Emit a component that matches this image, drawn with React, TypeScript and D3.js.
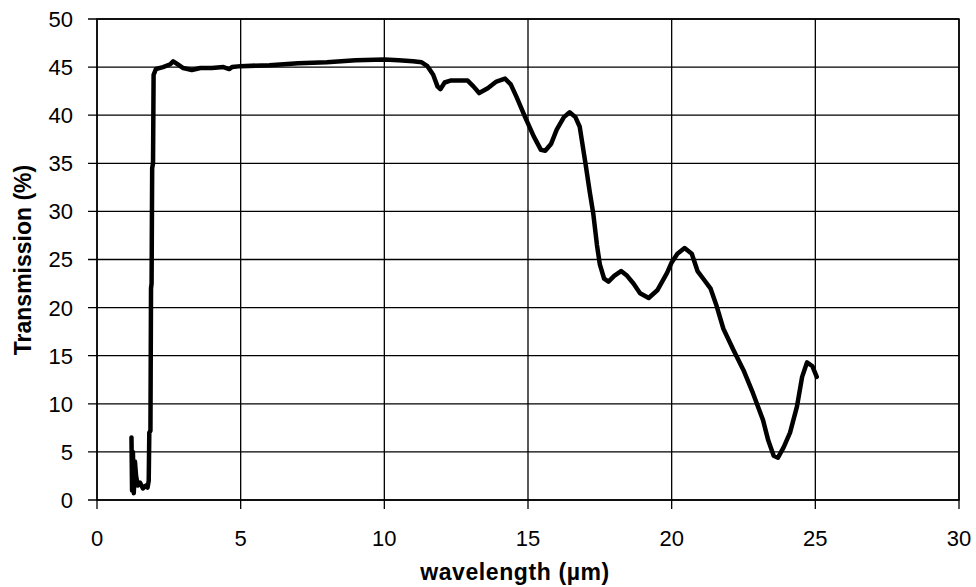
import React from "react";
import * as d3 from "d3";

const wavelength: number[] = [
  1.2, 1.22, 1.25, 1.28, 1.32, 1.36, 1.42, 1.5, 1.6, 1.7, 1.76, 1.8, 1.82, 1.86, 1.88, 1.9, 1.92, 1.95, 1.97, 2.05,
  2.3, 2.55, 2.65, 2.8, 3.0, 3.3, 3.6, 4.0, 4.4, 4.6, 4.7, 5.0, 6.0, 7.0, 8.0, 9.0, 10.0, 10.5, 11.0, 11.3,
  11.5, 11.7, 11.85, 11.95, 12.1, 12.3, 12.9, 13.1, 13.3, 13.6, 13.9, 14.2, 14.4, 14.6, 14.9, 15.2, 15.45, 15.6, 15.8, 16.0,
  16.25, 16.45, 16.65, 16.8, 17.0, 17.15, 17.27, 17.4, 17.5, 17.65, 17.8, 18.0, 18.24, 18.45, 18.67, 18.9, 19.2, 19.5, 19.84, 20.0,
  20.2, 20.45, 20.7, 20.9, 21.1, 21.35, 21.55, 21.8, 22.15, 22.5, 22.83, 23.18, 23.36, 23.55, 23.7, 23.9, 24.12, 24.36, 24.54, 24.71,
  24.9, 25.05,
];
const transmission: number[] = [
  6.5, 1.0, 5.0, 0.7, 4.0, 2.5, 1.5, 1.8, 1.2, 1.5, 1.3, 2.0, 7.0, 7.2, 22, 22.5, 34.5, 35, 44.2, 44.8,
  45.0, 45.3, 45.6, 45.3, 44.9, 44.7, 44.9, 44.9, 45.0, 44.8, 45.0, 45.1, 45.2, 45.4, 45.5, 45.7, 45.8, 45.7, 45.6, 45.5,
  45.1, 44.2, 43.0, 42.7, 43.4, 43.6, 43.6, 43.0, 42.3, 42.8, 43.5, 43.8, 43.2, 41.9, 39.8, 37.8, 36.4, 36.3, 37.0, 38.5,
  39.8, 40.3, 39.8, 38.8, 35.0, 32.0, 29.8, 26.5, 24.5, 23.0, 22.7, 23.3, 23.8, 23.3, 22.5, 21.5, 21.0, 21.8, 23.6, 24.7,
  25.6, 26.2, 25.6, 23.8, 23.0, 22.0, 20.3, 17.8, 15.6, 13.5, 11.1, 8.3, 6.2, 4.6, 4.4, 5.5, 7.0, 9.7, 12.8, 14.3,
  13.9, 12.8,
];
const xTicks: number[] = [0, 5, 10, 15, 20, 25, 30];
const yTicks: number[] = [0, 5, 10, 15, 20, 25, 30, 35, 40, 45, 50];
const xTitle = "wavelength (µm)";
const yTitle = "Transmission (%)";

export default function App() {
  const W = 976, H = 587;
  const left = 97, right = 959, top = 19, bottom = 500;
  const x = d3.scaleLinear().domain([0, 30]).range([left, right]);
  const y = d3.scaleLinear().domain([0, 50]).range([bottom, top]);
  const pts: [number, number][] = wavelength.map((w, i) => [w, transmission[i]]);
  const line = d3.line<[number, number]>().x(d => x(d[0])).y(d => y(d[1]));
  const font = "'Liberation Sans', Arial, sans-serif";
  return (
    <svg width={W} height={H} style={{ position: "absolute", left: 0, top: 0, background: "#fff" }}>
      <rect x={0} y={0} width={W} height={H} fill="#fff" />
      {yTicks.map(t => (
        <g key={"y" + t}>
          <line x1={left - 9} x2={right} y1={y(t)} y2={y(t)} stroke="#000" strokeWidth={1.3} />
          <text x={left - 24} y={y(t)} dy="0.36em" textAnchor="end" fontFamily={font} fontSize={22}>{t}</text>
        </g>
      ))}
      {xTicks.map(t => (
        <g key={"x" + t}>
          <line x1={x(t)} x2={x(t)} y1={top} y2={bottom + 9} stroke="#000" strokeWidth={1.3} />
          <text x={x(t)} y={546} textAnchor="middle" fontFamily={font} fontSize={22}>{t}</text>
        </g>
      ))}
      <rect x={left} y={top} width={right - left} height={bottom - top} fill="none" stroke="#000" strokeWidth={1.5} />
      <path d={line(pts) || ""} fill="none" stroke="#000" strokeWidth={4.5} strokeLinejoin="round" strokeLinecap="round" />
      <text x={515} y={580} textAnchor="middle" fontFamily={font} fontSize={23} fontWeight="bold" letterSpacing={0.6}>{xTitle}</text>
      <text transform={`translate(31, 260) rotate(-90)`} textAnchor="middle" fontFamily={font} fontSize={23} fontWeight="bold">{yTitle}</text>
    </svg>
  );
}
